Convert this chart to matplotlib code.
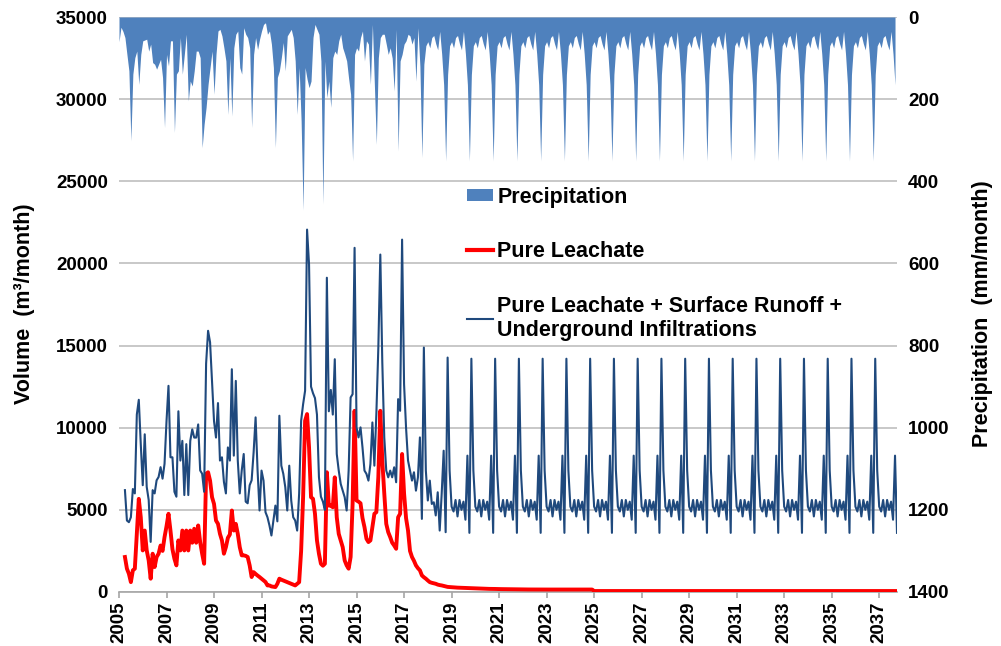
import matplotlib
matplotlib.use('Agg')
import matplotlib.pyplot as plt
from matplotlib.patches import Patch
from matplotlib.lines import Line2D

FONT = ['Liberation Sans', 'DejaVu Sans']
plt.rcParams['font.family'] = FONT
plt.rcParams['font.weight'] = 'bold'

# ---------------- data (monthly) ----------------
# Precipitation (mm/month), starts Jan 2005, one row per year
precip_start = 2005.0
precipitation = [
    60, 25, 35, 50, 91, 131, 301, 139, 99, 83, 164, 91,       # 2005
    58, 56, 54, 83, 66, 111, 115, 127, 115, 103, 147, 269,     # 2006
    91, 119, 58, 58, 281, 139, 131, 50, 139, 91, 42, 204,      # 2007
    156, 168, 131, 83, 83, 99, 318, 261, 220, 164, 123, 83,    # 2008
    188, 91, 34, 30, 46, 75, 107, 237, 99, 241, 75, 42,        # 2009
    34, 123, 139, 26, 42, 50, 75, 269, 91, 50, 79, 54,         # 2010
    34, 18, 14, 42, 34, 66, 123, 318, 147, 131, 99, 62,        # 2011
    131, 46, 38, 30, 50, 107, 237, 123, 253, 470, 123, 151,    # 2012
    172, 156, 50, 18, 30, 42, 107, 455, 107, 196, 156, 220,    # 2013
    99, 83, 91, 58, 42, 75, 90, 107, 150, 188, 350, 91,        # 2014
    75, 83, 50, 34, 107, 58, 66, 164, 18, 164, 310, 99,        # 2015
    50, 42, 42, 66, 91, 75, 100, 180, 30, 326, 107, 91,        # 2016
    66, 58, 42, 46, 66, 50, 156, 26, 120, 342, 115, 70,        # 2017
    60, 75, 50, 45, 65, 80, 35, 90, 165, 350, 140, 70,         # 2018
    60, 75, 50, 45, 65, 80, 35, 90, 165, 350, 140, 70,         # 2019
    60, 75, 50, 45, 65, 80, 35, 90, 165, 350, 140, 70,         # 2020
    60, 75, 50, 45, 65, 80, 35, 90, 165, 350, 140, 70,         # 2021
    60, 75, 50, 45, 65, 80, 35, 90, 165, 350, 140, 70,         # 2022
    60, 75, 50, 45, 65, 80, 35, 90, 165, 350, 140, 70,         # 2023
    60, 75, 50, 45, 65, 80, 35, 90, 165, 350, 140, 70,         # 2024
    60, 75, 50, 45, 65, 80, 35, 90, 165, 350, 140, 70,         # 2025
    60, 75, 50, 45, 65, 80, 35, 90, 165, 350, 140, 70,         # 2026
    60, 75, 50, 45, 65, 80, 35, 90, 165, 350, 140, 70,         # 2027
    60, 75, 50, 45, 65, 80, 35, 90, 165, 350, 140, 70,         # 2028
    60, 75, 50, 45, 65, 80, 35, 90, 165, 350, 140, 70,         # 2029
    60, 75, 50, 45, 65, 80, 35, 90, 165, 350, 140, 70,         # 2030
    60, 75, 50, 45, 65, 80, 35, 90, 165, 350, 140, 70,         # 2031
    60, 75, 50, 45, 65, 80, 35, 90, 165, 350, 140, 70,         # 2032
    60, 75, 50, 45, 65, 80, 35, 90, 165, 350, 140, 70,         # 2033
    60, 75, 50, 45, 65, 80, 35, 90, 165, 350, 140, 70,         # 2034
    60, 75, 50, 45, 65, 80, 35, 90, 165, 350, 140, 70,         # 2035
    60, 75, 50, 45, 65, 80, 35, 90, 165, 350, 140, 70,         # 2036
    60, 75, 50, 45, 65, 80, 35, 90, 165,                       # 2037 (Jan-Sep)
]

# Leachate series start Apr 2005
flow_start = 2005.25
pure_leachate = [
    2130, 1420, 1110, 600, 1320, 1420, 3500, 5670, 4550,                  # 2005 Apr-Dec
    2530, 3740, 2530, 1920, 810, 2330, 1520, 2130, 2330, 2830, 2500, 3340,  # 2006
    4000, 4760, 3740, 2600, 2020, 1620, 3140, 2530, 3740, 2530, 3740, 2530, # 2007
    3740, 3000, 3850, 3000, 4050, 3040, 2330, 1720, 7190, 7290, 6780, 5770, # 2008
    5360, 4350, 4150, 3540, 3140, 2330, 2730, 3300, 3500, 4960, 3740, 4150, # 2009
    3540, 2730, 2230, 2230, 2200, 2130, 1620, 910, 1210, 1100, 1000, 910,   # 2010
    810, 710, 610, 400, 400, 340, 320, 300, 500, 810, 750, 700,             # 2011
    650, 600, 550, 500, 450, 400, 500, 600, 2500, 5770, 10420, 10830,       # 2012
    8800, 5770, 5670, 4760, 3140, 2330, 1720, 1600, 1720, 7290, 5260, 5260, # 2013
    5160, 6980, 4550, 3540, 3140, 2730, 1920, 1620, 1420, 2130, 5360, 11030,# 2014
    5570, 5500, 5400, 4500, 3950, 3240, 3040, 3140, 3950, 4760, 4860, 7000, # 2015
    11030, 8000, 6000, 4150, 3640, 3340, 3000, 2830, 2630, 4550, 4760, 8400,# 2016
    6000, 4500, 3740, 2500, 2130, 1900, 1620, 1450, 1320, 1010, 900, 810,   # 2017
    700, 600, 560, 530, 500, 450, 420, 400, 370, 340, 310, 300,             # 2018
    290, 280, 270, 265, 260, 255, 250, 245, 240, 235, 230, 225,             # 2019
    220, 215, 210, 205, 200, 200, 195, 190, 190, 185, 185, 180,             # 2020
    178, 176, 174, 172, 170, 168, 166, 164, 162, 160, 158, 156,             # 2021
    155, 155, 154, 154, 153, 153, 152, 152, 151, 151, 150, 150,             # 2022
    150, 150, 150, 150, 150, 150, 150, 150, 150, 150, 150, 150,             # 2023
    150, 150, 150, 150, 150, 150, 150, 150, 150, 150, 150, 150,             # 2024
    60, 60, 60, 60, 60, 60, 60, 60, 60, 60, 60, 60,                         # 2025
    60, 60, 60, 60, 60, 60, 60, 60, 60, 60, 60, 60,                         # 2026
    60, 60, 60, 60, 60, 60, 60, 60, 60, 60, 60, 60,                         # 2027
    60, 60, 60, 60, 60, 60, 60, 60, 60, 60, 60, 60,                         # 2028
    60, 60, 60, 60, 60, 60, 60, 60, 60, 60, 60, 60,                         # 2029
    60, 60, 60, 60, 60, 60, 60, 60, 60, 60, 60, 60,                         # 2030
    60, 60, 60, 60, 60, 60, 60, 60, 60, 60, 60, 60,                         # 2031
    60, 60, 60, 60, 60, 60, 60, 60, 60, 60, 60, 60,                         # 2032
    60, 60, 60, 60, 60, 60, 60, 60, 60, 60, 60, 60,                         # 2033
    60, 60, 60, 60, 60, 60, 60, 60, 60, 60, 60, 60,                         # 2034
    60, 60, 60, 60, 60, 60, 60, 60, 60, 60, 60, 60,                         # 2035
    60, 60, 60, 60, 60, 60, 60, 60, 60, 60, 60, 60,                         # 2036
    60, 60, 60, 60, 60, 60, 60, 60, 60, 60,                                 # 2037 Jan-Oct
]

total_flow = [
    6200, 4350, 4250, 4550, 6270, 6000, 10800, 11700, 9000,                     # 2005 Apr-Dec
    6500, 9600, 6400, 5600, 3050, 6200, 6000, 6800, 7000, 7600, 6900, 7800,     # 2006
    10400, 12550, 8200, 8200, 6100, 5800, 11000, 8000, 9200, 5900, 9000, 5900,  # 2007
    9200, 9900, 9400, 9400, 10200, 7400, 7200, 6100, 13900, 15900, 15200, 12800,# 2008
    10400, 9400, 11500, 8000, 8200, 6700, 6000, 8800, 8000, 13560, 8300, 12850, # 2009
    8000, 6000, 7400, 8400, 5500, 5400, 6500, 6800, 8500, 10630, 7390, 4960,    # 2010
    7390, 6780, 4860, 4550, 4050, 3440, 4350, 5260, 4300, 10730, 7690, 7190,    # 2011
    6380, 4960, 7690, 5570, 4550, 4350, 3740, 6000, 10420, 11430, 12250, 22060, # 2012
    19940, 12500, 12100, 11800, 10800, 7000, 5800, 5500, 5000, 19130, 11000, 12300, # 2013
    10800, 14170, 8400, 7390, 6580, 6170, 5770, 4960, 7390, 11840, 12040, 20950,# 2014
    10020, 9410, 10020, 8800, 7390, 7190, 6780, 7790, 10320, 7690, 10830, 14880,# 2015
    20540, 14000, 9410, 7390, 6980, 7390, 6980, 7590, 6680, 11740, 11030, 21450,# 2016
    12650, 10000, 8000, 7390, 6780, 7290, 6170, 6980, 9410, 4450, 14880, 7390,  # 2017
    5570, 6780, 5360, 5460, 4660, 6070, 3740, 5970, 8600, 3640, 14270, 7390,    # 2018
    5200, 4900, 5600, 4600, 5600, 5000, 5500, 4400, 8300, 3600, 14200, 7400,    # 2019
    5200, 4900, 5600, 4600, 5600, 5000, 5500, 4400, 8300, 3600, 14200, 7400,    # 2020
    5200, 4900, 5600, 4600, 5600, 5000, 5500, 4400, 8300, 3600, 14200, 7400,    # 2021
    5200, 4900, 5600, 4600, 5600, 5000, 5500, 4400, 8300, 3600, 14200, 7400,    # 2022
    5200, 4900, 5600, 4600, 5600, 5000, 5500, 4400, 8300, 3600, 14200, 7400,    # 2023
    5200, 4900, 5600, 4600, 5600, 5000, 5500, 4400, 8300, 3600, 14200, 7400,    # 2024
    5200, 4900, 5600, 4600, 5600, 5000, 5500, 4400, 8300, 3600, 14200, 7400,    # 2025
    5200, 4900, 5600, 4600, 5600, 5000, 5500, 4400, 8300, 3600, 14200, 7400,    # 2026
    5200, 4900, 5600, 4600, 5600, 5000, 5500, 4400, 8300, 3600, 14200, 7400,    # 2027
    5200, 4900, 5600, 4600, 5600, 5000, 5500, 4400, 8300, 3600, 14200, 7400,    # 2028
    5200, 4900, 5600, 4600, 5600, 5000, 5500, 4400, 8300, 3600, 14200, 7400,    # 2029
    5200, 4900, 5600, 4600, 5600, 5000, 5500, 4400, 8300, 3600, 14200, 7400,    # 2030
    5200, 4900, 5600, 4600, 5600, 5000, 5500, 4400, 8300, 3600, 14200, 7400,    # 2031
    5200, 4900, 5600, 4600, 5600, 5000, 5500, 4400, 8300, 3600, 14200, 7400,    # 2032
    5200, 4900, 5600, 4600, 5600, 5000, 5500, 4400, 8300, 3600, 14200, 7400,    # 2033
    5200, 4900, 5600, 4600, 5600, 5000, 5500, 4400, 8300, 3600, 14200, 7400,    # 2034
    5200, 4900, 5600, 4600, 5600, 5000, 5500, 4400, 8300, 3600, 14200, 7400,    # 2035
    5200, 4900, 5600, 4600, 5600, 5000, 5500, 4400, 8300, 3600, 14200, 7400,    # 2036
    5200, 4900, 5600, 4600, 5600, 5000, 5500, 4400, 8300, 3600,                 # 2037 Jan-Oct
]

year_ticks = list(range(2005, 2038, 2))
year_labels = [str(y) for y in year_ticks]
volume_ticks = [0, 5000, 10000, 15000, 20000, 25000, 30000, 35000]
precip_ticks = [0, 200, 400, 600, 800, 1000, 1200, 1400]

legend_labels = ['Precipitation', 'Pure Leachate',
                 'Pure Leachate + Surface Runoff +\nUnderground Infiltrations']

# ---------------- styling ----------------
C_PREC = '#4F81BD'
C_RED = '#FF0000'
C_BLUE = '#1F497D'
C_GRID = '#BFBFBF'
TICK_FS = 13.5
LAB_FS = 15.5
LEG_FS = 15.5

x_prec = [precip_start + k / 12 for k in range(len(precipitation))]
x_flow = [flow_start + k / 12 for k in range(len(total_flow))]

fig = plt.figure(figsize=(10.01, 6.46), dpi=100)
fig.patch.set_facecolor('white')
L, B = 119 / 1001, (646 - 592) / 646
W, H = (897 - 119) / 1001, 575 / 646
ax = fig.add_axes([L, B, W, H])
ax2 = ax.twinx()
ax.set_zorder(2)
ax2.set_zorder(1)
ax.patch.set_visible(False)

# precipitation (right, inverted axis)
ax2.fill_between(x_prec, 0, precipitation, color=C_PREC, linewidth=0, zorder=2)
ax2.set_ylim(1400, 0)
ax2.set_yticks(precip_ticks)
ax2.set_axisbelow(True)
ax2.grid(axis='y', color=C_GRID, linewidth=1.2)

# volumes (left axis)
ax.plot(x_flow, pure_leachate, color=C_RED, linewidth=2.8, solid_joinstyle='round', zorder=3)
ax.plot(x_flow, total_flow, color=C_BLUE, linewidth=1.5, solid_joinstyle='round', zorder=4)
ax.set_ylim(0, 35000)
ax.set_yticks(volume_ticks)
ax.set_xlim(2005.0, x_flow[-1])
ax.set_xticks(year_ticks)
ax.set_xticklabels(year_labels, rotation=90)

for a in (ax, ax2):
    for s in a.spines.values():
        s.set_visible(False)
ax.spines['bottom'].set_visible(True)
ax.spines['bottom'].set_color('#A6A6A6')
ax.spines['bottom'].set_linewidth(1.2)

ax.tick_params(axis='x', direction='out', length=4, width=1.2, color='#A6A6A6',
               labelsize=TICK_FS, pad=3)
ax.tick_params(axis='y', length=0, labelsize=TICK_FS, pad=8)
ax2.tick_params(axis='y', length=0, labelsize=TICK_FS, pad=8)
for lab in ax.get_xticklabels() + ax.get_yticklabels() + ax2.get_yticklabels():
    lab.set_fontweight('bold')

fig.text(0.024, 0.53, 'Volume  (m³/month)', rotation=90, ha='center', va='center',
         fontsize=LAB_FS, fontweight='bold')
fig.text(0.982, 0.515, 'Precipitation  (mm/month)', rotation=90, ha='center', va='center',
         fontsize=LAB_FS, fontweight='bold')

handles = [Patch(facecolor=C_PREC, edgecolor='none'),
           Line2D([], [], color=C_RED, linewidth=3),
           Line2D([], [], color=C_BLUE, linewidth=1.5)]
leg = ax.legend(handles, legend_labels, loc='upper left',
                bbox_to_anchor=(467 / 1001, 1 - 187 / 646), bbox_transform=fig.transFigure,
                frameon=False, prop={'size': LEG_FS, 'weight': 'bold'},
                handlelength=1.2, handleheight=0.5, handletextpad=0.2,
                labelspacing=1.55, borderpad=0, borderaxespad=0)

fig.savefig('out.png', dpi=100, facecolor='white')
